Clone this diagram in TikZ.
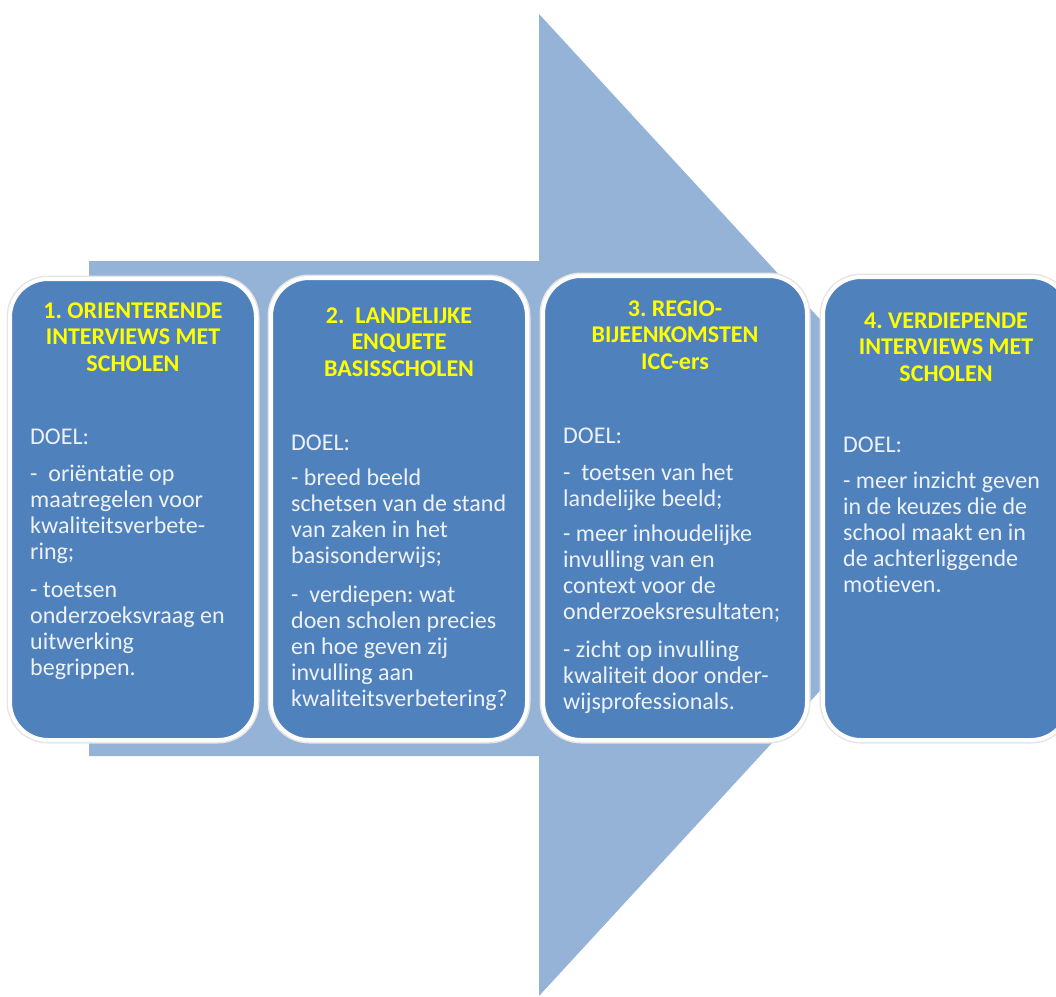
\documentclass[tikz,border=0pt]{standalone}
\usepackage{fontspec}
\setmainfont{Carlito}[Ligatures=NoCommon]
\frenchspacing
\definecolor{arrowblue}{HTML}{95B3D7}
\definecolor{boxblue}{HTML}{4F81BD}
\definecolor{bodytext}{HTML}{EEF2F8}
\definecolor{titleyellow}{HTML}{FFFF00}
\tikzset{
  stage/.style={draw=white, line width=4pt, fill=boxblue, rounded corners=38pt, inner sep=0pt,
    preaction={draw=black!10, line width=7pt}},
  stagetitle/.style={text=titleyellow, font=\fontsize{24}{26.5}\selectfont\bfseries, align=center, anchor=north, inner sep=0pt},
  stagebody/.style={text=bodytext, font=\fontsize{24}{26}\selectfont, align=left, anchor=north west, inner sep=0pt},
}
\newcommand{\firstline}{\rule{0pt}{18pt}}
\begin{document}
\begin{tikzpicture}[x=1pt,y=-1pt]
\useasboundingbox (0,0) rectangle (1056,996);
\clip (0,0) rectangle (1056,996);
% big arrow
\fill[arrowblue] (89,261) -- (539,261) -- (539,14) -- (991,505) -- (539,996) -- (539,756) -- (89,756) -- cycle;
% stage boxes
\node[stage, minimum width=246pt, minimum height=461pt] (b1) at (133,509.5) {};
\node[stage, minimum width=256pt, minimum height=462pt] (b2) at (399,509) {};
\node[stage, minimum width=264pt, minimum height=464pt] (b3) at (675,508) {};
\node[stage, minimum width=246pt, minimum height=463pt] (b4) at (946,508.5) {};
% titles
\node[stagetitle] (t1) at (133,300) {\firstline 1. ORIENTERENDE\\INTERVIEWS MET\\SCHOLEN};
\node[stagetitle] (t2) at (399,305) {\firstline 2.~~LANDELIJKE\\ENQUETE\\BASISSCHOLEN};
\node[stagetitle] (t3) at (675,298) {\firstline 3. REGIO-\\BIJEENKOMSTEN\\ICC-ers};
\node[stagetitle] (t4) at (946,310) {\firstline 4. VERDIEPENDE\\INTERVIEWS MET\\SCHOLEN};
% bodies
\node[stagebody] (d1) at (30,426.3) {\firstline DOEL:\\[11pt]
-~~oriëntatie op\\
maatregelen voor\\
kwaliteitsverbete-\\
ring;\\[12pt]
- toetsen\\
onderzoeksvraag en\\
uitwerking\\
begrippen.};
\node[stagebody] (d2) at (291,432) {\firstline DOEL:\\[9pt]
- breed beeld\\
schetsen van de stand\\
van zaken in het\\
basisonderwijs;\\[13pt]
-~~verdiepen: wat\\
doen scholen precies\\
en hoe geven zij\\
invulling aan\\
kwaliteitsverbetering?};
\node[stagebody] (d3) at (563,425) {\firstline DOEL:\\[11pt]
-~~toetsen van het\\
landelijke beeld;\\[9pt]
- meer inhoudelijke\\
invulling van en\\
context voor de\\
onderzoeksresultaten;\\[12pt]
- zicht op invulling\\
kwaliteit door onder-\\
wijsprofessionals.};
\node[stagebody] (d4) at (843,434) {\firstline DOEL:\\[10pt]
- meer inzicht geven\\
in de keuzes die de\\
school maakt en in\\
de achterliggende\\
motieven.};
\end{tikzpicture}
\end{document}
